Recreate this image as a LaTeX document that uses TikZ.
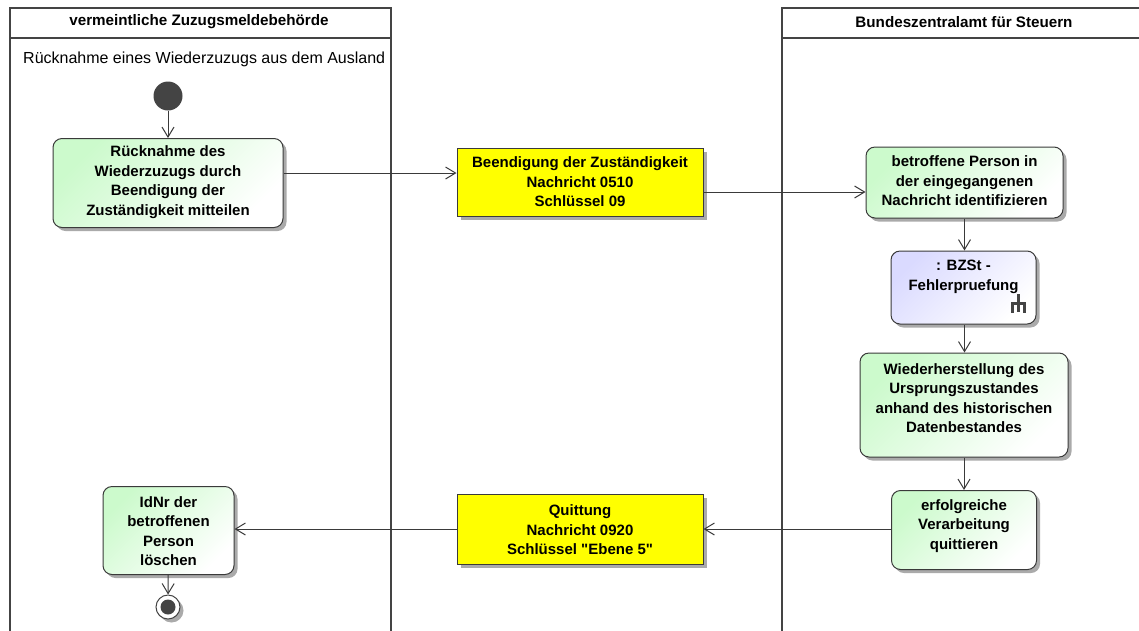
\documentclass[tikz,border=0pt]{standalone}
\usepackage{fontspec}
\setmainfont{Liberation Sans}
\usetikzlibrary{arrows.meta,shadows}
\definecolor{lanec}{HTML}{444444}
\definecolor{edgec}{HTML}{3A3A3A}
\definecolor{actgreen}{RGB}{204,250,204}
\definecolor{actblue}{RGB}{218,218,255}
\definecolor{msgyellow}{RGB}{255,255,0}
\definecolor{shadowc}{HTML}{AAAAAA}
\begin{document}
\begin{tikzpicture}[x=1pt,y=-1pt,
  laneline/.style={draw=lanec,line width=2pt},
  boxshadow/.style={drop shadow={shadow xshift=3.5pt,shadow yshift=-3.5pt,fill=shadowc,opacity=1}},
  actbox/.style={draw=edgec,line width=1pt,rounded corners=9pt,inner sep=0pt,
    top color=actgreen,bottom color=white,shading angle=45,boxshadow},
  subbox/.style={actbox,top color=actblue,bottom color=white,shading angle=45},
  msgbox/.style={draw=edgec,line width=1pt,fill=msgyellow,inner sep=0pt,boxshadow},
  txt/.style={align=center,inner sep=0pt,font=\bfseries\fontsize{15}{19.5}\selectfont},
  title/.style={inner sep=0pt,font=\bfseries\fontsize{15.2}{18}\selectfont},
  conn/.style={draw=edgec,line width=1pt,-{Straight Barb[length=10pt,width=12pt,line width=1pt]}},
  ]
\useasboundingbox (0,0) rectangle (1139,630);

% swimlanes
\draw[laneline] (10,631) -- (10,8) -- (391,8) -- (391,631);
\draw[laneline] (10,38) -- (391,38);
\draw[laneline] (782,631) -- (782,8) -- (1145,8);
\draw[laneline] (782,38) -- (1145,38);
\node[title] (t1) at (199,22) {vermeintliche Zuzugsmeldebehörde};
\node[title] (t2) at (964,22) {Bundeszentralamt für Steuern};
\node[anchor=west,inner sep=0pt,font=\fontsize{16}{18}\selectfont] (lbl) at (23,59) {Rücknahme eines Wiederzuzugs aus dem Ausland};

% start / end
\node[circle,fill=lanec,minimum size=29pt,inner sep=0pt] (start) at (168,96) {};
\node[circle,draw=lanec,line width=1pt,fill=white,minimum size=24pt,inner sep=0pt,boxshadow,
  path picture={\fill[lanec] (path picture bounding box.center) circle (7.5pt);}] (stop) at (168,607) {};

% boxes
\node[actbox,minimum width=230pt,minimum height=89pt] (a1) at (168,183) {};
\node[txt] at (168,182) {Rücknahme des\\Wiederzuzugs durch\\Beendigung der\\Zuständigkeit mitteilen};

\node[msgbox,minimum width=246pt,minimum height=68pt] (m1) at (580,182) {};
\node[txt] at (580,182) {Beendigung der Zuständigkeit\\Nachricht 0510\\Schlüssel 09};

\node[actbox,minimum width=197pt,minimum height=71pt] (b1) at (964.5,182.5) {};
\node[txt] at (964.5,181) {betroffene Person in\\der eingegangenen\\Nachricht identifizieren};

\node[subbox,minimum width=145pt,minimum height=73pt] (b2) at (963.5,287.5) {};
\node[txt] at (963.5,277) {: BZSt -\\Fehlerpruefung};
\draw[lanec,line width=3pt] (1018,294) -- (1018,312)
  (1012,312.5) -- (1012,303) -- (1024,303) -- (1024,312.5);

\node[actbox,minimum width=208pt,minimum height=104pt] (b3) at (964,405) {};
\node[txt] at (964,398) {Wiederherstellung des\\Ursprungszustandes\\anhand des historischen\\Datenbestandes};

\node[actbox,minimum width=145pt,minimum height=79pt] (b4) at (964,530) {};
\node[txt] at (964,526) {erfolgreiche\\Verarbeitung\\quittieren};

\node[msgbox,minimum width=246pt,minimum height=70pt] (m2) at (580,529) {};
\node[txt] at (580,530) {Quittung\\Nachricht 0920\\Schlüssel \textquotedbl Ebene 5\textquotedbl};

\node[actbox,minimum width=131pt,minimum height=88pt] (a2) at (168.5,530.5) {};
\node[txt] at (168.5,531) {IdNr der\\betroffenen\\Person\\löschen};

% connectors
\coordinate (ya) at (0,173);
\coordinate (yb) at (0,192);
\coordinate (yc) at (0,529);
\draw[conn] (start) -- (a1);
\draw[conn] (a1.east |- ya) -- (m1.west |- ya);
\draw[conn] (m1.east |- yb) -- (b1.west |- yb);
\draw[conn] (b1) -- (b1.south |- b2.north);
\draw[conn] (b2.south -| b1.south) -- (b1.south |- b3.north);
\draw[conn] (b3) -- (b4);
\draw[conn] (b4.west |- yc) -- (m2.east |- yc);
\draw[conn] (m2.west |- yc) -- (a2.east |- yc);
\draw[conn] (a2) -- (stop);
\end{tikzpicture}
\end{document}
